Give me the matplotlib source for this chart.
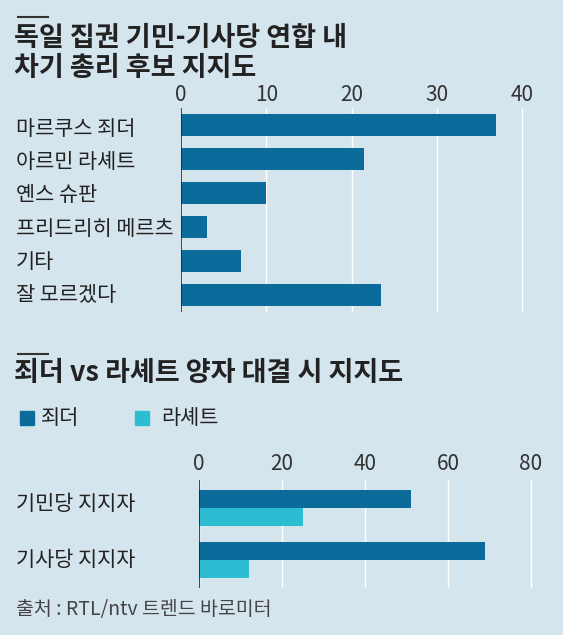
import matplotlib
matplotlib.use("Agg")
import matplotlib.pyplot as plt
import numpy as np

plt.rcParams['font.family'] = ['Noto Sans CJK KR', 'DejaVu Sans']

cand = ["마르쿠스 죄더", "아르민 라셰트", "옌스 슈판", "프리드리히 메르츠", "기타", "잘 모르겠다"]
cand_vals = [37, 21.5, 10, 3, 7, 23.5]
top_ticks = [0, 10, 20, 30, 40]

groups = ["기민당 지지자", "기사당 지지자"]
soeder = [51, 69]
laschet = [25, 12]
bot_ticks = [0, 20, 40, 60, 80]

BG = "#d5e5ee"
DARK = "#0b6b9b"
CYAN = "#2dbdd2"
W, H = 563, 635
fig = plt.figure(figsize=(W/100, H/100), dpi=100, facecolor=BG)

def ax_px(x0, y0, x1, y1):
    return fig.add_axes([x0/W, 1-y1/H, (x1-x0)/W, (y1-y0)/H])

def ftext(x, y, s, **kw):
    fig.text(x/W, 1-y/H, s, **kw)

TS = 19.5
LS = 15
# titles
fig.add_artist(plt.Line2D([18/W, 48/W], [1-17/H, 1-17/H], color="#333", lw=1.5))
ftext(14, 38, "독일 집권 기민-기사당 연합 내", fontsize=TS, fontweight='bold', va='center', color="#222")
ftext(14, 68, "차기 총리 후보 지지도", fontsize=TS, fontweight='bold', va='center', color="#222")

# top chart
ax = ax_px(181, 108, 560, 312)
ax.set_facecolor(BG)
y = np.arange(len(cand))
ax.barh(y, cand_vals, height=0.62, color=DARK, zorder=3)
ax.set_ylim(len(cand)-0.5, -0.5)
ax.set_xlim(0, 40*379/341)
for t in top_ticks:
    ax.axvline(t, color="white", lw=1, zorder=1)
    ftext(181 + t*341/40, 95, str(t), fontsize=15, ha='center', va='center', color="#333")
ax.axvline(0, color="#222", lw=1.2, zorder=4)
for sp in ax.spines.values():
    sp.set_visible(False)
ax.set_xticks([]); ax.set_yticks([])
for i, c in enumerate(cand):
    ftext(16, 129 + i*33.2, c, fontsize=LS, va='center', color="#222")

# bottom title
fig.add_artist(plt.Line2D([18/W, 48/W], [1-354/H, 1-354/H], color="#333", lw=1.5))
ftext(14, 373, "죄더 vs 라셰트 양자 대결 시 지지도", fontsize=TS, fontweight='bold', va='center', color="#222")
fig.add_artist(plt.Rectangle((20/W, 1-425/H), 14/W, 14/H, color=DARK))
ftext(41, 418, "죄더", fontsize=LS, va='center', color="#222")
fig.add_artist(plt.Rectangle((135/W, 1-425/H), 14/W, 14/H, color=CYAN))
ftext(161, 418, "라셰트", fontsize=LS, va='center', color="#222")

ax2 = ax_px(199, 480, 560, 588)
ax2.set_facecolor(BG)
yy = np.arange(len(groups))
ax2.barh(yy - 0.175, soeder, height=0.35, color=DARK, zorder=3)
ax2.barh(yy + 0.175, laschet, height=0.35, color=CYAN, zorder=3)
ax2.set_ylim(1.55, -0.55)
ax2.set_xlim(0, 80*361/332)
for t in bot_ticks:
    ax2.axvline(t, color="white", lw=1, zorder=1)
    ftext(199 + t*332/80, 464, str(t), fontsize=15, ha='center', va='center', color="#333")
ax2.axvline(0, color="#222", lw=1.2, zorder=4)
for sp in ax2.spines.values():
    sp.set_visible(False)
ax2.set_xticks([]); ax2.set_yticks([])
for i, g in enumerate(groups):
    ftext(16, 504 + i*56, g, fontsize=LS, va='center', color="#222")

ftext(16, 610, "출처 : RTL/ntv 트렌드 바로미터", fontsize=14, va='center', color="#444")

fig.savefig("out.png", dpi=100, facecolor=BG)
